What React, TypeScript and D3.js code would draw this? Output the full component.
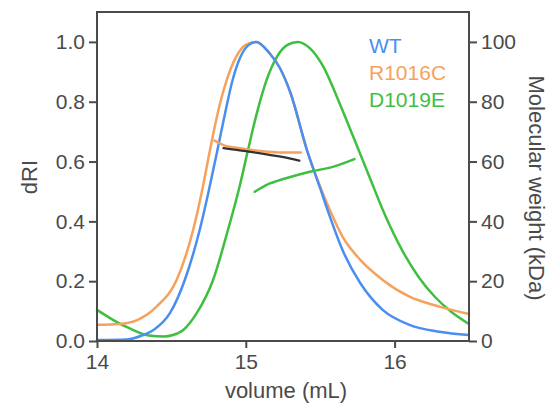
import React, { useEffect, useRef } from 'react';
import * as d3 from 'd3';

// dRI traces (volume mL, normalized dRI)
const wtVolume = [14.0, 14.2, 14.31, 14.38, 14.49, 14.59, 14.69, 14.75, 14.81, 14.86, 14.91, 14.96, 15.02, 15.07, 15.16, 15.23, 15.3, 15.41, 15.5, 15.565, 15.65, 15.77, 15.92, 16.1, 16.3, 16.5];
const wtDri = [0.003, 0.005, 0.02, 0.037, 0.093, 0.204, 0.371, 0.5, 0.64, 0.76, 0.87, 0.945, 0.99, 1.0, 0.962, 0.912, 0.83, 0.64, 0.51, 0.416, 0.304, 0.193, 0.104, 0.054, 0.031, 0.02];

const r1016cVolume = [14.0, 14.15, 14.27, 14.4, 14.535, 14.646, 14.705, 14.76, 14.815, 14.87, 14.935, 15.0, 15.07, 15.16, 15.23, 15.3, 15.41, 15.5, 15.565, 15.65, 15.77, 15.92, 16.1, 16.3, 16.5];
const r1016cDri = [0.054, 0.057, 0.07, 0.115, 0.204, 0.371, 0.5, 0.64, 0.77, 0.87, 0.95, 0.99, 1.0, 0.962, 0.912, 0.83, 0.64, 0.516, 0.438, 0.349, 0.271, 0.204, 0.148, 0.115, 0.09];

const d1019eVolume = [14.0, 14.11, 14.22, 14.35, 14.45, 14.51, 14.58, 14.67, 14.78, 14.88, 14.96, 15.015, 15.08, 15.14, 15.21, 15.28, 15.35, 15.43, 15.52, 15.63, 15.74, 15.83, 15.94, 16.05, 16.16, 16.27, 16.38, 16.5];
const d1019eDri = [0.104, 0.07, 0.042, 0.018, 0.015, 0.02, 0.037, 0.093, 0.204, 0.371, 0.52, 0.639, 0.773, 0.873, 0.951, 0.99, 1.0, 0.979, 0.918, 0.795, 0.661, 0.55, 0.416, 0.304, 0.215, 0.148, 0.098, 0.057];

// molecular weight traces (volume mL, kDa)
const mwR1016cVolume = [14.79, 14.85, 14.95, 15.1, 15.25, 15.37];
const mwR1016cKda = [67, 65.5, 64.5, 63.5, 63, 63];

const mwWtVolume = [14.85, 15.0, 15.15, 15.3, 15.36];
const mwWtKda = [64.5, 63.5, 62.3, 61, 60.3];

const mwD1019eVolume = [15.06, 15.14, 15.27, 15.43, 15.59, 15.73];
const mwD1019eKda = [49.9, 52.2, 54.4, 56.6, 58.3, 60.8];

const legendNames = ['WT', 'R1016C', 'D1019E'];
const legendColors = ['#4a8ff0', '#f5a25c', '#3fbf3f'];

const xMajor = [14, 15, 16];
const yMajor = [0, 0.2, 0.4, 0.6, 0.8, 1.0];
const mwMajor = [0, 20, 40, 60, 80, 100];

export default function App() {
    const ref = useRef<SVGSVGElement>(null);

    useEffect(() => {
        var svg = d3.select(ref.current);
        svg.selectAll('*').remove();

        var left = 97, right = 469, top = 12, bottom = 341;
        var axisColor = '#4a4a4a';
        var font = 'Arial, "Liberation Sans", sans-serif';

        var x = d3.scaleLinear().domain([14, 16.5]).range([left, right]);
        var y = d3.scaleLinear().domain([0, 1.1]).range([bottom, top]);
        var y2 = d3.scaleLinear().domain([0, 110]).range([bottom, top]);

        // traces
        var drawTrace = function (xs: number[], ys: number[], sy: any, color: string, w: number) {
            var line = d3.line<number>()
                .x(function (d, i) { return x(xs[i]); })
                .y(function (d) { return sy(d); })
                .curve(d3.curveMonotoneX);
            svg.append('path')
                .datum(ys)
                .attr('d', line)
                .attr('fill', 'none')
                .attr('stroke', color)
                .attr('stroke-width', w)
                .attr('stroke-linecap', 'round');
        };

        drawTrace(d1019eVolume, d1019eDri, y, legendColors[2], 2.5);
        drawTrace(r1016cVolume, r1016cDri, y, legendColors[1], 2.5);
        drawTrace(wtVolume, wtDri, y, legendColors[0], 2.5);
        drawTrace(mwR1016cVolume, mwR1016cKda, y2, legendColors[1], 2.5);
        drawTrace(mwWtVolume, mwWtKda, y2, '#333333', 2.2);
        drawTrace(mwD1019eVolume, mwD1019eKda, y2, legendColors[2], 2.5);

        // frame
        svg.append('rect')
            .attr('x', left).attr('y', top)
            .attr('width', right - left).attr('height', bottom - top)
            .attr('fill', 'none')
            .attr('stroke', axisColor)
            .attr('stroke-width', 2);

        // x axis
        var xAxis = svg.append('g').attr('transform', 'translate(0,' + bottom + ')');
        xAxis.call(d3.axisBottom(x).tickValues(d3.range(14, 16.51, 0.25)).tickSize(4).tickFormat(() => ''));
        xAxis.call(d3.axisBottom(x).tickValues(xMajor).tickSize(7).tickFormat(d3.format('d')));

        // left axis
        var yAxis = svg.append('g').attr('transform', 'translate(' + left + ',0)');
        yAxis.call(d3.axisLeft(y).tickValues(d3.range(0, 1.05, 0.1)).tickSize(4).tickFormat(() => ''));
        yAxis.call(d3.axisLeft(y).tickValues(yMajor).tickSize(8).tickPadding(4).tickFormat(d3.format('.1f')));

        // right axis
        var y2Axis = svg.append('g').attr('transform', 'translate(' + right + ',0)');
        y2Axis.call(d3.axisRight(y2).tickValues(d3.range(0, 105, 10)).tickSize(4).tickFormat(() => ''));
        y2Axis.call(d3.axisRight(y2).tickValues(mwMajor).tickSize(8).tickPadding(4).tickFormat(d3.format('d')));

        svg.selectAll('.domain').remove();
        svg.selectAll('.tick line').attr('stroke', axisColor).attr('stroke-width', 2);
        svg.selectAll('.tick text')
            .attr('fill', axisColor)
            .style('font-family', font)
            .style('font-size', '21px');
        xAxis.selectAll('.tick text').attr('dy', '0.85em');

        // axis titles
        svg.append('text')
            .attr('x', 286).attr('y', 398)
            .attr('text-anchor', 'middle')
            .attr('fill', axisColor)
            .style('font-family', font)
            .style('font-size', '22px')
            .text('volume (mL)');

        svg.append('text')
            .attr('transform', 'translate(37,177) rotate(-90)')
            .attr('text-anchor', 'middle')
            .attr('fill', axisColor)
            .style('font-family', font)
            .style('font-size', '22px')
            .text('dRI');

        svg.append('text')
            .attr('transform', 'translate(529,188) rotate(90)')
            .attr('text-anchor', 'middle')
            .attr('fill', axisColor)
            .style('font-family', font)
            .style('font-size', '22px')
            .text('Molecular weight (kDa)');

        // legend
        svg.selectAll('.legend')
            .data(legendNames)
            .enter().append('text')
            .attr('class', 'legend')
            .attr('x', 369)
            .attr('y', function (d, i) { return 53 + i * 27; })
            .attr('fill', function (d, i) { return legendColors[i]; })
            .style('font-family', font)
            .style('font-size', '21px')
            .text(function (d) { return d; });
    }, []);

    return (
        <svg ref={ref} width={552} height={407} style={{ position: 'absolute', left: 0, top: 0, background: '#fff' }} />
    );
}
